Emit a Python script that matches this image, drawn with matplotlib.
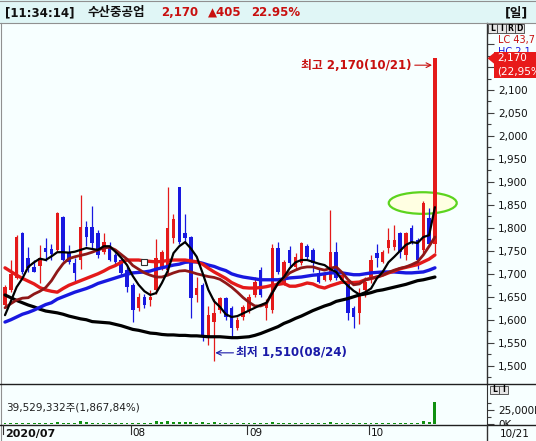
import matplotlib
matplotlib.use('Agg')
import matplotlib.pyplot as plt
from matplotlib.patches import Rectangle, Ellipse, Polygon
from matplotlib.ticker import FuncFormatter, FixedLocator
import numpy as np

plt.rcParams['font.family'] = ['DejaVu Sans', 'Noto Sans CJK KR']

# ---------------- data ----------------
opens = [1632, 1665, 1691, 1789, 1735, 1715, 1716, 1757, 1754, 1752,
         1823, 1748, 1723, 1730, 1802, 1802, 1789, 1748, 1759, 1740,
         1730, 1708, 1676, 1625, 1650, 1643, 1665, 1713, 1708, 1778,
         1889, 1789, 1780, 1654, 1676, 1563, 1595, 1621, 1647, 1625,
         1582, 1606, 1621, 1654, 1708, 1625, 1621, 1756, 1680, 1752,
         1715, 1723, 1760, 1752, 1702, 1687, 1687, 1748, 1687, 1680,
         1625, 1615, 1665, 1693, 1745, 1726, 1756, 1758, 1789, 1741,
         1800, 1774, 1752, 1821, 1765]
highs = [1675, 1730, 1785, 1792, 1758, 1730, 1763, 1778, 1765, 1835,
         1825, 1763, 1735, 1871, 1815, 1848, 1795, 1789, 1770, 1745,
         1735, 1720, 1680, 1658, 1655, 1665, 1775, 1752, 1889, 1830,
         1889, 1830, 1782, 1693, 1680, 1630, 1645, 1650, 1650, 1630,
         1605, 1632, 1656, 1693, 1715, 1645, 1765, 1770, 1730, 1760,
         1745, 1770, 1765, 1756, 1710, 1705, 1839, 1770, 1700, 1684,
         1630, 1670, 1693, 1741, 1765, 1752, 1800, 1806, 1791, 1791,
         1806, 1778, 1858, 1843, 2170]
lows = [1625, 1660, 1688, 1700, 1705, 1703, 1680, 1727, 1730, 1750,
        1727, 1722, 1683, 1710, 1760, 1757, 1735, 1744, 1727, 1720,
        1695, 1660, 1595, 1620, 1625, 1630, 1656, 1708, 1700, 1767,
        1765, 1767, 1604, 1638, 1553, 1545, 1510, 1615, 1600, 1560,
        1578, 1600, 1615, 1650, 1650, 1600, 1615, 1700, 1676, 1715,
        1710, 1720, 1730, 1704, 1680, 1684, 1684, 1687, 1680, 1600,
        1582, 1590, 1650, 1680, 1715, 1723, 1745, 1752, 1735, 1730,
        1765, 1710, 1745, 1760, 1745]
closes = [1671, 1700, 1780, 1704, 1713, 1705, 1735, 1748, 1743, 1832,
          1730, 1726, 1702, 1802, 1781, 1767, 1741, 1770, 1730, 1725,
          1702, 1671, 1621, 1650, 1632, 1650, 1735, 1748, 1800, 1819,
          1769, 1778, 1647, 1669, 1563, 1610, 1615, 1647, 1606, 1582,
          1600, 1628, 1650, 1682, 1654, 1634, 1756, 1704, 1726, 1723,
          1737, 1767, 1737, 1723, 1682, 1702, 1748, 1691, 1698, 1615,
          1606, 1658, 1682, 1730, 1735, 1748, 1774, 1774, 1748, 1789,
          1769, 1730, 1854, 1765, 2170]

ma5 = [1610, 1640, 1671, 1690, 1715, 1725, 1733, 1730, 1738, 1747,
       1747, 1746, 1748, 1752, 1756, 1754, 1752, 1760, 1760, 1748,
       1735, 1719, 1695, 1676, 1662, 1654, 1658, 1680, 1706, 1745,
       1760, 1769, 1755, 1737, 1702, 1665, 1640, 1628, 1612, 1606,
       1608, 1614, 1620, 1626, 1632, 1637, 1658, 1680, 1693, 1712,
       1725, 1730, 1730, 1726, 1722, 1719, 1710, 1704, 1687, 1674,
       1663, 1655, 1660, 1668, 1690, 1704, 1725, 1737, 1750, 1763,
       1769, 1767, 1780, 1784, 1845]
ma10 = [1626, 1635, 1643, 1647, 1648, 1656, 1662, 1670, 1685, 1705,
        1722, 1733, 1737, 1740, 1743, 1747, 1752, 1756, 1758, 1752,
        1742, 1732, 1718, 1710, 1702, 1697, 1693, 1693, 1697, 1702,
        1706, 1707, 1704, 1700, 1697, 1694, 1692, 1688, 1680, 1671,
        1660, 1648, 1638, 1630, 1630, 1635, 1660, 1680, 1690, 1702,
        1708, 1713, 1715, 1715, 1711, 1708, 1712, 1715, 1703, 1688,
        1676, 1678, 1687, 1690, 1693, 1697, 1703, 1708, 1712, 1715,
        1720, 1726, 1741, 1760, 1780]
ma20 = [1713, 1705, 1697, 1690, 1684, 1678, 1670, 1665, 1662, 1660,
        1668, 1675, 1680, 1685, 1690, 1695, 1700, 1706, 1713, 1718,
        1725, 1730, 1730, 1730, 1728, 1727, 1726, 1727, 1729, 1730,
        1730, 1730, 1728, 1726, 1721, 1712, 1704, 1697, 1690, 1681,
        1675, 1670, 1669, 1669, 1670, 1672, 1675, 1677, 1679, 1673,
        1673, 1676, 1680, 1678, 1672, 1669, 1674, 1678, 1682, 1681,
        1681, 1682, 1687, 1690, 1693, 1697, 1702, 1706, 1711, 1714,
        1717, 1720, 1726, 1732, 1741]
ma60 = [1595, 1600, 1606, 1612, 1616, 1621, 1627, 1633, 1637, 1645,
        1650, 1655, 1660, 1664, 1668, 1673, 1679, 1683, 1687, 1691,
        1695, 1699, 1702, 1703, 1704, 1706, 1710, 1713, 1716, 1719,
        1721, 1725, 1726, 1726, 1723, 1719, 1716, 1711, 1707, 1700,
        1696, 1693, 1691, 1689, 1687, 1687, 1687, 1687, 1689, 1691,
        1692, 1693, 1695, 1697, 1698, 1700, 1702, 1702, 1702, 1700,
        1698, 1698, 1700, 1702, 1703, 1704, 1704, 1704, 1703, 1702,
        1702, 1703, 1704, 1708, 1713]
ma120 = [1654, 1648, 1642, 1637, 1632, 1628, 1623, 1619, 1617, 1615,
         1612, 1608, 1605, 1602, 1600, 1596, 1595, 1594, 1593, 1590,
         1587, 1583, 1579, 1577, 1574, 1571, 1570, 1568, 1567, 1567,
         1566, 1566, 1565, 1565, 1564, 1563, 1563, 1563, 1562, 1561,
         1561, 1562, 1563, 1566, 1570, 1575, 1580, 1585, 1592, 1597,
         1603, 1608, 1614, 1620, 1625, 1630, 1634, 1640, 1643, 1646,
         1650, 1654, 1656, 1659, 1663, 1665, 1668, 1671, 1674, 1677,
         1681, 1685, 1687, 1690, 1693]

volumes_m = [2.1, 1.9, 2.4, 2.0, 1.8, 1.6, 1.7, 1.9, 1.6, 2.8,
             2.2, 1.8, 1.7, 5.2, 3.0, 2.4, 1.9, 2.6, 2.0, 1.7,
             1.6, 1.8, 2.5, 1.9, 1.6, 1.7, 4.5, 3.2, 6.0, 3.5,
             4.2, 2.8, 3.1, 2.0, 3.3, 2.6, 3.8, 2.0, 1.9, 2.3,
             1.7, 1.6, 1.8, 2.1, 2.3, 1.9, 3.6, 2.5, 2.0, 1.9,
             1.7, 2.2, 1.8, 1.7, 1.9, 1.6, 3.9, 2.4, 1.6, 2.2,
             2.0, 1.8, 1.9, 2.1, 1.7, 1.8, 2.6, 2.3, 2.0, 2.4,
             2.1, 2.3, 5.0, 3.2, 39.53]

month_labels = ['2020/07', '08', '09', '10']
month_start_idx = [0, 22, 42, 63]
price_ticks = list(range(1500, 2101, 50))
high_idx, high_val, high_label = 74, 2170, '최고 2,170(10/21)'
low_idx, low_val, low_label = 36, 1510, '최저 1,510(08/24)'
news_idx, news_val = 24, 1726
title_parts = ['[11:34:14]', '수산중공업', '2,170', '▲405', '22.95%']
last_price_box = ['2,170', '(22,95%']
volume_text = '39,529,332주(1,867,84%)'
last_date = '10/21'

# ---------------- layout ----------------
W, H = 536, 441
BG = '#F7FFFF'
TITLE_BG = '#E0F6F6'
RED = '#E41A1A'
BLUE = '#1818E0'
DARKRED = '#8E1818'
TXT_RED = '#C8100F'
X_RIGHT = 487
TOP = 23
PRICE_BOT = 384
VOL_BOT = 424
X0, PX_IDX = 5, 5.81
Y2100, PX_WON = 90, 0.4595


def fx(px):
    return px / W


def fy(py):
    return 1 - py / H


fig = plt.figure(figsize=(W / 100, H / 100), dpi=100, facecolor=BG)

base = fig.add_axes([0, 0, 1, 1], zorder=0)
base.set_xlim(0, W)
base.set_ylim(H, 0)
base.set_axis_off()
base.add_patch(Rectangle((0, 0), W, TOP, facecolor=TITLE_BG, edgecolor='none'))

xlim = (-X0 / PX_IDX, (X_RIGHT - X0) / PX_IDX)

# ---------------- price panel ----------------
ax = fig.add_axes([0, fy(PRICE_BOT), fx(X_RIGHT), (PRICE_BOT - TOP) / H], zorder=1)
ax.set_facecolor('none')
ax.set_xlim(*xlim)
ax.set_ylim(2100 - (PRICE_BOT - Y2100) / PX_WON, 2100 + (Y2100 - TOP) / PX_WON)

x = np.arange(len(closes))
o = np.array(opens, float)
c = np.array(closes, float)
hi = np.array(highs, float)
lo = np.array(lows, float)
cols = np.where(c >= o, RED, BLUE)

ax.add_patch(Ellipse((71.9, 1854), 11.7, 47, facecolor='#FFFFE2',
                     edgecolor='#5CD41E', lw=1.6, zorder=1))

ax.vlines(x, lo, hi, colors=cols, lw=0.9, zorder=3)
ax.bar(x, np.maximum(np.abs(c - o), 3), bottom=np.minimum(o, c), width=0.6,
       color=cols, edgecolor='none', zorder=3)

ax.plot(x, ma120, color='#000000', lw=2.3, zorder=4, solid_capstyle='round')
ax.plot(x, ma60, color=BLUE, lw=2.4, zorder=4, solid_capstyle='round')
ax.plot(x, ma20, color=RED, lw=2.4, zorder=4, solid_capstyle='round')
ax.plot(x, ma10, color=DARKRED, lw=2.0, zorder=4, solid_capstyle='round')
ax.plot(x, ma5, color='#000000', lw=1.6, zorder=5, solid_capstyle='round')

ax.plot([news_idx], [news_val], marker='s', ms=4.5, mfc='white', mec='#303030',
        mew=0.8, zorder=6)

ax.annotate(high_label, xy=(high_idx - 0.5, high_val - 16), xytext=(70.05, high_val - 16),
            ha='right', va='center', color=TXT_RED, fontsize=8.5, fontweight='bold',
            arrowprops=dict(arrowstyle='->', color=TXT_RED, lw=0.8,
                            shrinkA=0, shrinkB=0), zorder=7)
ax.annotate(low_label, xy=(low_idx + 0.2, low_val + 18), xytext=(39.8, low_val + 18),
            ha='left', va='center', color='#1A1AA8', fontsize=8.5, fontweight='bold',
            arrowprops=dict(arrowstyle='->', color='#1A1AA8', lw=0.8,
                            shrinkA=0, shrinkB=0), zorder=7)

for s in ['top', 'left', 'bottom']:
    ax.spines[s].set_visible(False)
ax.spines['right'].set_color('#303030')
ax.spines['right'].set_linewidth(1.0)
ax.yaxis.tick_right()
ax.set_xticks([])
ax.yaxis.set_major_locator(FixedLocator(price_ticks + [2150, 2200]))
ax.yaxis.set_minor_locator(FixedLocator(np.arange(1475, 2226, 25)))
ax.yaxis.set_major_formatter(FuncFormatter(lambda v, p: f'{int(v):,}' if v <= 2100 else ''))
ax.tick_params(axis='y', which='major', length=5, width=0.8, pad=3, labelsize=7.5,
               color='#404040', labelcolor='#101010')
ax.tick_params(axis='y', which='minor', length=3, width=0.8, color='#404040')

# ---------------- volume panel ----------------
vax = fig.add_axes([0, fy(VOL_BOT), fx(X_RIGHT), (VOL_BOT - PRICE_BOT) / H], zorder=1)
vax.set_facecolor('none')
vax.set_xlim(*xlim)
vax.set_ylim(0, 71.8)
vax.bar(x, volumes_m, width=0.5, color='#119011', edgecolor='none')
for s in ['top', 'left', 'bottom']:
    vax.spines[s].set_visible(False)
vax.spines['right'].set_color('#303030')
vax.yaxis.tick_right()
vax.set_xticks([])
vax.yaxis.set_major_locator(FixedLocator([0, 25]))
vax.yaxis.set_minor_locator(FixedLocator([12.5, 37.5]))
vax.yaxis.set_major_formatter(FuncFormatter(lambda v, p: f'{int(v * 1000):,}K'))
vax.tick_params(axis='y', which='major', length=5, width=0.8, pad=3, labelsize=7.5,
                color='#404040', labelcolor='#101010')
vax.tick_params(axis='y', which='minor', length=3, width=0.8, color='#404040')

# ---------------- overlay (frame, texts) ----------------
ov = fig.add_axes([0, 0, 1, 1], zorder=5)
ov.set_xlim(0, W)
ov.set_ylim(H, 0)
ov.set_axis_off()

ov.add_patch(Rectangle((0, 425), W, H - 425, facecolor=BG, edgecolor='none', zorder=1))
ov.plot([0, W], [TOP, TOP], color='#909090', lw=0.8, zorder=2)
ov.plot([0, W], [0.5, 0.5], color='#909090', lw=0.8, zorder=2)
ov.plot([0.5, 0.5], [TOP, H], color='#909090', lw=0.8, zorder=2)
ov.plot([0, W], [PRICE_BOT, PRICE_BOT], color='#202020', lw=1.0, zorder=2)
ov.plot([0, W], [425, 425], color='#202020', lw=1.0, zorder=2)
ov.plot([X_RIGHT, X_RIGHT], [425, H], color='#303030', lw=1.0, zorder=2)

# title
tx = [5, 88, 161, 208, 251]
tcol = ['#101010', '#101010', TXT_RED, TXT_RED, TXT_RED]
tsz = [8.5, 9, 8.5, 8.5, 8.5]
for t, px, cc, sz in zip(title_parts, tx, tcol, tsz):
    ov.text(px, 12.5, t, color=cc, fontsize=sz, fontweight='bold', ha='left', va='center')
ov.text(505, 12.5, '[일]', color='#101010', fontsize=9, fontweight='bold', ha='left', va='center')

# LIRD buttons
for i, ch in enumerate('LIRD'):
    ov.add_patch(Rectangle((488 + i * 9, 24), 8.5, 8.5, facecolor='#E6E6E6',
                           edgecolor='#404040', lw=0.6, zorder=3))
    ov.text(488 + i * 9 + 4.25, 28.5, ch, fontsize=5.5, fontweight='bold', ha='center',
            va='center', zorder=4)
for i, ch in enumerate('LI'):
    ov.add_patch(Rectangle((490 + i * 9, 385.5), 8.5, 8.5, facecolor='#E6E6E6',
                           edgecolor='#404040', lw=0.6, zorder=3))
    ov.text(490 + i * 9 + 4.25, 390, ch, fontsize=5.5, fontweight='bold', ha='center',
            va='center', zorder=4)

ov.text(498, 40.5, 'LC 43,7', color=TXT_RED, fontsize=7, ha='left', va='center', zorder=3)
ov.text(498, 51.5, 'HC 2,1', color=BLUE, fontsize=7, ha='left', va='center', zorder=3)

# last price box
ov.add_patch(Rectangle((494, 52), W - 494, 25.5, facecolor='#E81A1A', edgecolor='none', zorder=5))
ov.add_patch(Polygon([[487.5, 58.3], [494.5, 52.5], [494.5, 64]], closed=True,
                     facecolor='#E81A1A', edgecolor='none', zorder=5))
ov.text(497, 58.5, last_price_box[0], color='white', fontsize=7.5, ha='left', va='center', zorder=6)
ov.text(497, 71.5, last_price_box[1], color='white', fontsize=7.5, ha='left', va='center', zorder=6)

# volume text
ov.text(6, 407.5, volume_text, color='#202020', fontsize=7.5, ha='left', va='center', zorder=3)

# date row
for lab, mi in zip(month_labels, month_start_idx):
    px = X0 + (mi - 0.35) * PX_IDX
    px = max(px, 2)
    ov.plot([px, px], [425, 434], color='#303030', lw=0.8, zorder=3)
    ov.text(px + 2, 433.5, lab, fontsize=8 if mi == 0 else 7.5,
            fontweight='bold' if mi == 0 else 'normal', color='#101010',
            ha='left', va='center', zorder=3)
ov.text(500, 433.5, last_date, fontsize=7.5, color='#101010', ha='left', va='center', zorder=3)

fig.savefig('out.png', dpi=100, facecolor=BG)
